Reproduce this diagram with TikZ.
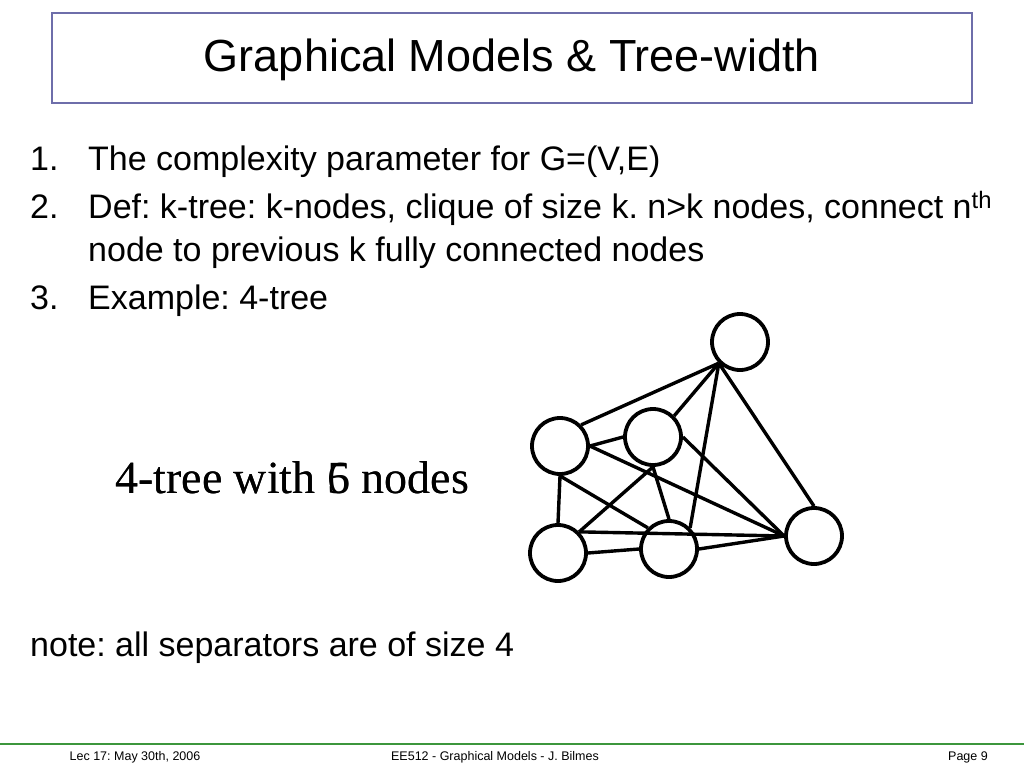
\documentclass[tikz,border=0pt]{standalone}
\usepackage{fontspec}
\setmainfont{Liberation Sans}
\newfontfamily\timesfont{Liberation Serif}
\frenchspacing

\definecolor{titleframe}{RGB}{110,110,170}
\definecolor{footgreen}{RGB}{60,150,60}

\tikzset{
  vertex/.style={circle, draw, line width=3.8pt, minimum size=56pt, inner sep=0pt},
  edge/.style={line width=3.4pt},
  bodytext/.style={anchor=base west, inner sep=0pt, font=\fontsize{34}{40}\selectfont},
  foottext/.style={anchor=base, inner sep=0pt, font=\fontsize{12.5}{15}\selectfont},
}

\begin{document}
\begin{tikzpicture}[x=1pt,y=-1pt]
    % page size
    \useasboundingbox (0,0) rectangle (1024,768);

    % Title box
    \draw[titleframe, line width=1.2pt] (52,13) rectangle (972,103);
    \node (title) at (512,60) {\fontsize{45}{50}\selectfont Graphical Models \& Tree-width};

    % Numbered list
    \node[bodytext] (n1) at (30,170) {1.};
    \node[bodytext] (t1) at (88,170) {The complexity parameter for G=(V,E)};
    \node[bodytext] (n2) at (30,218) {2.};
    \node[bodytext] (t2) at (88,218) {Def: k-tree: k-nodes, clique of size k. n>k nodes, connect n\textsuperscript{th}};
    \node[bodytext] (t2b) at (88,261) {node to previous k fully connected nodes};
    \node[bodytext] (n3) at (30,309) {3.};
    \node[bodytext] (t3) at (88,309) {Example: 4-tree};

    % the two labels lying on top of each other
    \node[anchor=base west, inner sep=0pt, font=\timesfont\fontsize{46}{50}\selectfont] (lab5) at (115,493) {4-tree with 5 nodes};
    \node[anchor=base west, inner sep=0pt, font=\timesfont\fontsize{46}{50}\selectfont] (lab6) at (115,493) {4-tree with 6 nodes};

    % Graph vertices
    \node[vertex] (T) at (740,342) {};
    \node[vertex] (A) at (560,446) {};
    \node[vertex] (B) at (653,437) {};
    \node[vertex] (C) at (558,553) {};
    \node[vertex] (D) at (669,549) {};
    \node[vertex] (E) at (814,536) {};

    % Graph edges
    \draw[edge] (A.north east) -- (T.south west);
    \draw[edge] (B.north east) -- (T.south west);
    \draw[edge] (D.north east) -- (T.south west);
    \draw[edge] (E.north) -- (T.south west);
    \draw[edge] (A.east) -- (B.west);
    \draw[edge] (A.east) -- (E.west);
    \draw[edge] (A.south) -- (D.north west);
    \draw[edge] (A.south) -- (C.north);
    \draw[edge] (B.south) -- (C.north east);
    \draw[edge] (B.south) -- (D.north);
    \draw[edge] (B.east) -- (E.west);
    \draw[edge] (C.north east) -- (E.west);
    \draw[edge] (C.east) -- (D.west);
    \draw[edge] (D.east) -- (E.west);

    % note
    \node[bodytext] (note) at (30,656) {note: all separators are of size 4};

    % Footer
    \draw[footgreen, line width=2pt] (0,744) -- (1024,744);
    \node[foottext] (lec) at (135,760) {Lec 17: May 30th, 2006};
    \node[foottext] (course) at (495,760) {EE512 - Graphical Models - J. Bilmes};
    \node[foottext] (page) at (968,760) {Page 9};
\end{tikzpicture}
\end{document}
